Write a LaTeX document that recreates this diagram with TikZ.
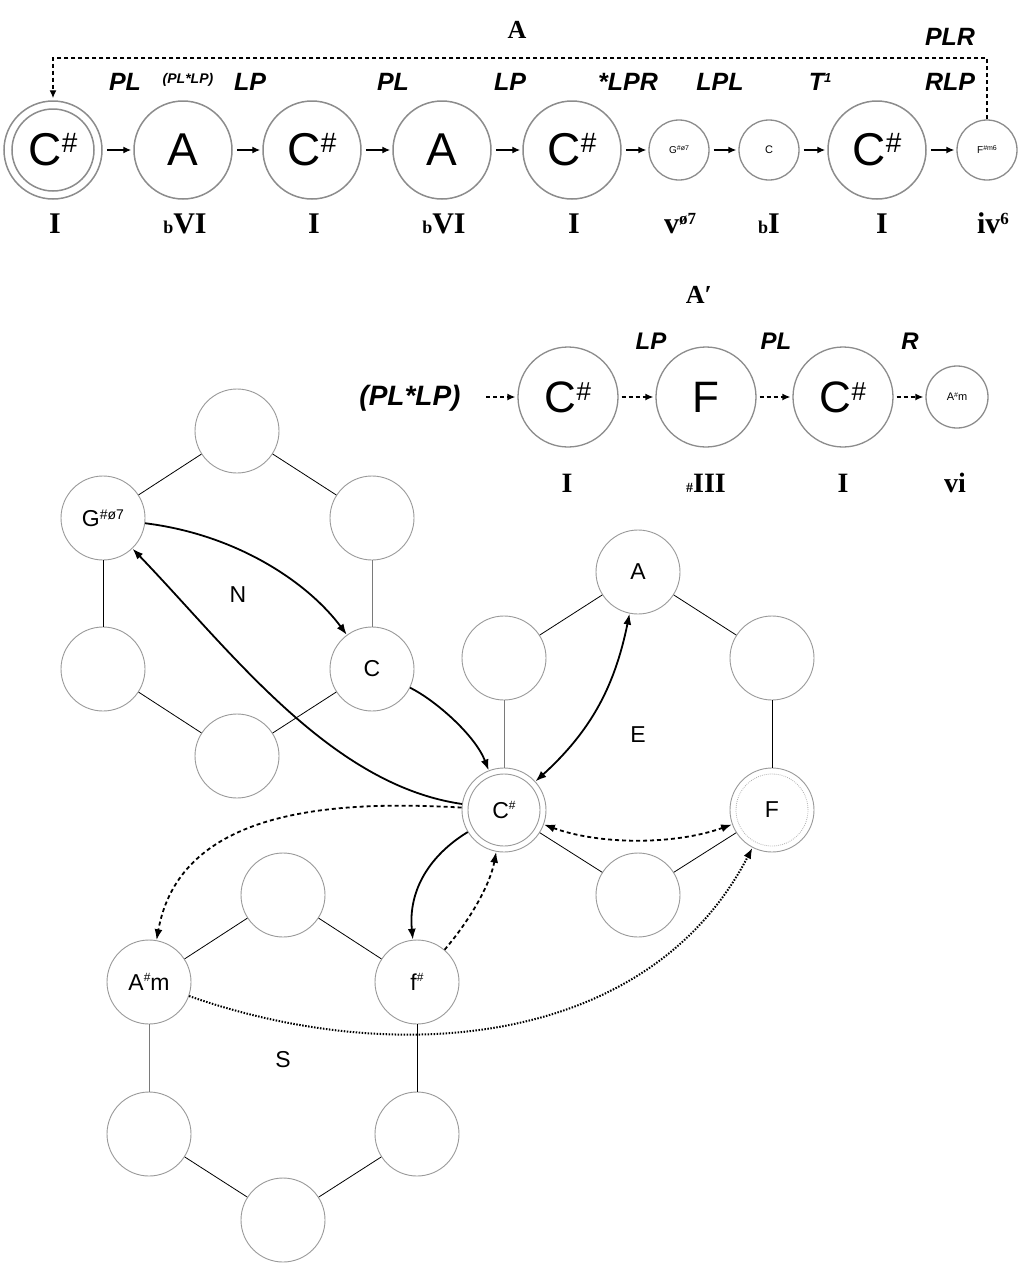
\documentclass[tikz,border=0pt]{standalone}
\usepackage{fontspec}
\setmainfont{Liberation Serif}
\newfontfamily\hvf{Liberation Sans}
\usetikzlibrary{arrows.meta}
\newcommand{\fsz}[1]{\fontsize{#1}{#1}\selectfont}
\newcommand{\rsup}[3]{\raisebox{#1pt}{\fsz{#2}#3}}
\definecolor{cgray}{HTML}{8C8C8C}
\definecolor{hgray}{HTML}{9A9A9A}
\definecolor{lgray}{HTML}{B0B0B0}
\definecolor{egray}{HTML}{7A7A7A}
\begin{document}
\begin{tikzpicture}[x=1pt,y=1pt,
 bigc/.style={circle,draw=cgray,line width=1.5pt,fill=white,minimum size=98pt,inner sep=0pt,font=\hvf\fsz{46}},
 smallc/.style={circle,draw=cgray,line width=1.3pt,fill=white,minimum size=60pt,inner sep=0pt,font=\hvf\fsz{10}},
 midc/.style={circle,draw=cgray,line width=1.3pt,fill=white,minimum size=100pt,inner sep=0pt,font=\hvf\fsz{44}},
 hexc/.style={circle,draw=hgray,line width=0.9pt,fill=white,minimum size=84pt,inner sep=0pt,font=\hvf\fsz{23}},
 oplab/.style={font=\hvf\bfseries\itshape\fsz{25},inner sep=0pt},
 oplabs/.style={font=\hvf\bfseries\itshape\fsz{24},inner sep=0pt},
 roman/.style={font=\bfseries\fsz{30},inner sep=0pt},
 seclab/.style={font=\bfseries\fsz{26},inner sep=0pt},
 hexlab/.style={font=\hvf\fsz{23},inner sep=0pt},
 hedge/.style={draw=black,line width=0.8pt},
 gedge/.style={draw=egray,line width=1pt},
 toparr/.style={line width=1.4pt,-{Latex[length=8pt,width=7pt]},shorten <=4pt,shorten >=2pt},
 dashtop/.style={line width=1.4pt,dash pattern=on 4pt off 3pt},
 dasharrow/.style={line width=1.4pt,dash pattern=on 4pt off 3pt,-{Latex[length=8pt,width=7pt]},shorten <=3pt,shorten >=2pt},
 solidarr/.style={line width=1.8pt,-{Latex[length=11pt,width=8pt]}},
 dasharr/.style={line width=1.8pt,dash pattern=on 4pt off 3pt,-{Latex[length=11pt,width=8pt]}},
 dotarr/.style={line width=2pt,dash pattern=on 1.5pt off 1.5pt,-{Latex[length=11pt,width=8pt]}},
]
\fill[white] (0,0) rectangle (1031,-1269);
\useasboundingbox (0,0) rectangle (1031,-1269);

% ---------- Section A ----------
\node[seclab] (secA) at (517,-30) {A};
\node[bigc] (t1) at (53,-150) {C\rsup{13}{28}{\#}};
\draw[cgray,line width=1.5pt] (t1.center) circle[radius=41];
\node[bigc] (t2) at (183,-150) {A};
\node[bigc] (t3) at (312,-150) {C\rsup{13}{28}{\#}};
\node[bigc] (t4) at (442,-150) {A};
\node[bigc] (t5) at (572,-150) {C\rsup{13}{28}{\#}};
\node[smallc] (t6) at (679,-150) {G\rsup{3}{7}{\#ø7}};
\node[smallc,font=\hvf\fsz{11}] (t7) at (769,-150) {C};
\node[bigc] (t8) at (877,-150) {C\rsup{13}{28}{\#}};
\node[smallc] (t9) at (987,-150) {F\rsup{3}{7}{\#m6}};

\draw[toparr] (t1) -- (t2);
\draw[toparr] (t2) -- (t3);
\draw[toparr] (t3) -- (t4);
\draw[toparr] (t4) -- (t5);
\draw[toparr] (t5) -- (t6);
\draw[toparr] (t6) -- (t7);
\draw[toparr] (t7) -- (t8);
\draw[toparr] (t8) -- (t9);

\coordinate (dtop) at (0,-58);
\draw[dashtop,-{Latex[length=8pt,width=7pt]},shorten >=2pt] (t9.north) -- (t9.north |- dtop) -- (t1.north |- dtop) -- (t1.north);

\node[oplab] (l1) at (125,-82) {PL};
\node[font=\hvf\bfseries\itshape\fsz{14},inner sep=0pt] (l2) at (188,-80) {(PL*LP)};
\node[oplab] (l3) at (250,-82) {LP};
\node[oplab] (l4) at (393,-82) {PL};
\node[oplab] (l5) at (510,-82) {LP};
\node[oplab] (l6) at (628,-82) {*LPR};
\node[oplab] (l7) at (720,-82) {LPL};
\node[oplab] (l8) at (820,-82) {T\rsup{8}{13}{1}};
\node[oplab] (l9) at (950,-82) {RLP};
\node[oplab] (l10) at (950,-37) {PLR};

\node[roman,anchor=base] (r1) at (55,-233) {I};
\node[roman,anchor=base] (r2) at (185,-233) {{\fsz{18}b}VI};
\node[roman,anchor=base] (r3) at (314,-233) {I};
\node[roman,anchor=base] (r4) at (444,-233) {{\fsz{18}b}VI};
\node[roman,anchor=base] (r5) at (574,-233) {I};
\node[roman,anchor=base] (r6) at (680,-233) {v\rsup{9}{17}{ø7}};
\node[roman,anchor=base] (r7) at (769,-233) {{\fsz{18}b}I};
\node[roman,anchor=base] (r8) at (882,-233) {I};
\node[roman,anchor=base] (r9) at (993,-233) {iv\rsup{9}{17}{6}};

% ---------- Section A' ----------
\node[seclab] (secA2) at (699,-295) {A′};
\node[font=\hvf\bfseries\itshape\fsz{28},inner sep=0pt] (p0) at (410,-398) {(PL*LP)};
\coordinate (p0s) at (486,-397);
\node[midc] (p1) at (568,-397) {C\rsup{12}{26}{\#}};
\node[midc] (p2) at (706,-397) {F};
\node[midc] (p3) at (843,-397) {C\rsup{12}{26}{\#}};
\node[smallc,minimum size=62pt,font=\hvf\fsz{11}] (p4) at (957,-397) {A\rsup{3}{7}{\#}m};
\draw[dasharrow,shorten <=0pt] (p0s) -- (p1);
\draw[dasharrow] (p1) -- (p2);
\draw[dasharrow] (p2) -- (p3);
\draw[dasharrow] (p3) -- (p4);
\node[oplabs] (q1) at (651,-341) {LP};
\node[oplabs] (q2) at (776,-341) {PL};
\node[oplabs] (q3) at (910,-341) {R};
\node[roman,anchor=base,font=\bfseries\fsz{28}] (s1r) at (567,-492) {I};
\node[roman,anchor=base,font=\bfseries\fsz{28}] (s2r) at (706,-492) {{\fsz{14}\#}III};
\node[roman,anchor=base,font=\bfseries\fsz{28}] (s3r) at (843,-492) {I};
\node[roman,anchor=base,font=\bfseries\fsz{28}] (s4r) at (955,-492) {vi};

% ---------- Hexagon N ----------
\node[hexc] (n1) at (237,-431) {};
\node[hexc] (n2) at (103,-518) {G\rsup{7}{14}{\#ø7}};
\node[hexc] (n3) at (372,-518) {};
\node[hexc] (n4) at (103,-669) {};
\node[hexc] (n5) at (372,-669) {C};
\node[hexc] (n6) at (237,-756) {};
\node[hexlab] (nl) at (238,-595) {N};
\draw[hedge] (n1) -- (n2);
\draw[hedge] (n1) -- (n3);
\draw[hedge] (n2) -- (n4);
\draw[gedge] (n3) -- (n5);
\draw[hedge] (n4) -- (n6);
\draw[hedge] (n5) -- (n6);

% ---------- Hexagon E ----------
\node[hexc] (e1) at (638,-572) {A};
\node[hexc] (e2) at (504,-658) {};
\node[hexc] (e3) at (772,-658) {};
\node[hexc] (e4) at (504,-810) {C\rsup{9}{12}{\#}};
\draw[hgray,line width=0.9pt] (e4.center) circle[radius=36];
\node[hexc] (e5) at (772,-810) {F};
\draw[lgray,line width=0.8pt,dash pattern=on 0.8pt off 1.2pt] (e5.center) circle[radius=36];
\node[hexc] (e6) at (638,-895) {};
\node[hexlab] (el) at (638,-735) {E};
\draw[hedge] (e1) -- (e2);
\draw[hedge] (e1) -- (e3);
\draw[gedge] (e2) -- (e4);
\draw[hedge] (e3) -- (e5);
\draw[hedge] (e4) -- (e6);
\draw[hedge] (e5) -- (e6);

% ---------- Hexagon S ----------
\node[hexc] (s1) at (283,-895) {};
\node[hexc] (s2) at (149,-982) {A\rsup{9}{12}{\#}m};
\node[hexc] (s3) at (417,-982) {f\rsup{9}{12}{\#}};
\node[hexc] (s4) at (149,-1134) {};
\node[hexc] (s5) at (417,-1134) {};
\node[hexc] (s6) at (283,-1220) {};
\node[hexlab] (sl) at (283,-1060) {S};
\draw[hedge] (s1) -- (s2);
\draw[hedge] (s1) -- (s3);
\draw[gedge] (s2) -- (s4);
\draw[hedge] (s3) -- (s5);
\draw[hedge] (s4) -- (s6);
\draw[hedge] (s5) -- (s6);

% ---------- connectors ----------
\draw[solidarr] (n2) .. controls (240,-535) and (310,-585) .. (n5);
\draw[solidarr] (e4) .. controls (330,-785) and (230,-650) .. (n2);
\draw[solidarr] (n5) .. controls (435,-700) and (475,-735) .. (e4);
\draw[solidarr,{Latex[length=11pt,width=8pt]}-{Latex[length=11pt,width=8pt]}] (e4) .. controls (592,-730) and (615,-685) .. (e1);
\draw[dasharr,{Latex[length=11pt,width=8pt]}-{Latex[length=11pt,width=8pt]}] (e4) .. controls (600,-845) and (675,-845) .. (e5);
\draw[dasharr] (e4) .. controls (330,-800) and (180,-810) .. (s2);
\draw[solidarr] (e4) .. controls (430,-855) and (408,-890) .. (s3);
\draw[dasharr] (s3) .. controls (470,-920) and (490,-885) .. (e4);
\draw[dotarr] (s2) .. controls (400,-1070) and (650,-1045) .. (e5);
\end{tikzpicture}
\end{document}
